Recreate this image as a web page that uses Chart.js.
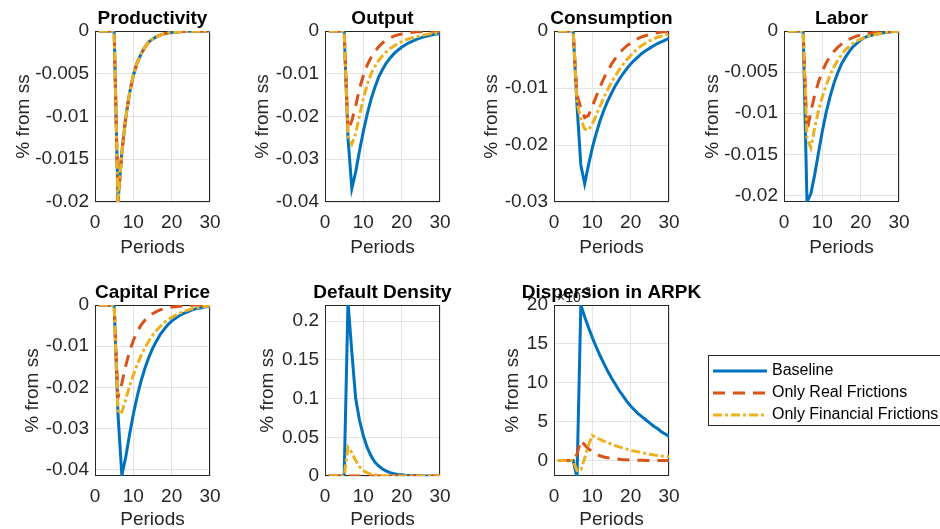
<!DOCTYPE html>
<html>
<head>
<meta charset="utf-8">
<script src="https://cdn.jsdelivr.net/npm/chart.js@4.4.1/dist/chart.umd.min.js"></script>
<style>
  body { margin: 0; background: #fff; width: 940px; height: 529px; overflow: hidden; position: relative; }
  canvas { position: absolute; }
</style>
</head>
<body>
<script>
// ---------------- data ----------------
const periods = [1, 2, 3, 4, 5, 6, 7, 8, 9, 10, 11, 12, 13, 14, 15, 16, 17, 18, 19, 20, 21, 22, 23, 24, 25, 26, 27, 28, 29, 30];
const xTicks = [0, 10, 20, 30];

const seriesNames = ['Baseline', 'Only Real Frictions', 'Only Financial Frictions'];
const seriesColors = ['#0072BD', '#D95319', '#EDB120'];
const seriesDash = [[], [12, 8], [9, 3, 3, 3]];

// Productivity (same path for the three models)
const prodAll = [0, 0, 0, 0, 0, -0.02, -0.0142, -0.0102, -0.0073, -0.0052, -0.0037, -0.0027, -0.0019, -0.0013, -0.00095, -0.00068, -0.00048, -0.00034, -0.00024, -0.00017, -0.00012, -0.00009, -0.00006, -0.00004, -0.00003, -0.00002, -0.00002, -0.00001, -0.00001, 0];

// Output
const outBase = [0, 0, 0, 0, 0, -0.025, -0.0368, -0.033, -0.028, -0.0235, -0.0195, -0.016, -0.0132, -0.0108, -0.009, -0.0075, -0.0063, -0.0053, -0.0045, -0.0038, -0.0032, -0.0027, -0.0023, -0.0019, -0.0016, -0.0013, -0.0011, -0.0009, -0.0007, -0.0006];
const outReal = [0, 0, 0, 0, 0, -0.0232, -0.021, -0.0175, -0.0135, -0.0104, -0.008, -0.0062, -0.0048, -0.0037, -0.0028, -0.0021, -0.0016, -0.0012, -0.0009, -0.0007, -0.0005, -0.0004, -0.0003, -0.0002, -0.00015, -0.0001, -0.00007, -0.00005, -0.00003, -0.00002];
const outFin = [0, 0, 0, 0, 0, -0.0245, -0.0265, -0.024, -0.0198, -0.0158, -0.0126, -0.01, -0.0083, -0.0069, -0.0058, -0.0049, -0.0041, -0.0035, -0.0029, -0.0025, -0.0021, -0.0018, -0.0015, -0.0013, -0.0011, -0.0009, -0.0007, -0.0006, -0.0005, -0.0004];

// Consumption
const consBase = [0, 0, 0, 0, 0, -0.013, -0.0235, -0.0268, -0.0235, -0.0205, -0.018, -0.0158, -0.0139, -0.0123, -0.0109, -0.0096, -0.0085, -0.0075, -0.0066, -0.0058, -0.0051, -0.0045, -0.0039, -0.0034, -0.003, -0.0026, -0.0022, -0.0019, -0.0016, -0.0013];
const consReal = [0, 0, 0, 0, 0, -0.0112, -0.0135, -0.0152, -0.0148, -0.0132, -0.0115, -0.0098, -0.0083, -0.007, -0.0058, -0.0048, -0.0039, -0.0032, -0.0026, -0.0021, -0.0017, -0.0013, -0.001, -0.0008, -0.0006, -0.0004, -0.0003, -0.0002, -0.0001, -0.0001];
const consFin = [0, 0, 0, 0, 0, -0.0125, -0.0155, -0.0172, -0.0174, -0.0163, -0.0148, -0.0132, -0.0117, -0.0103, -0.009, -0.0079, -0.0068, -0.0059, -0.005, -0.0043, -0.0036, -0.003, -0.0025, -0.0021, -0.0017, -0.0014, -0.0011, -0.0009, -0.0007, -0.0005];

// Labor
const laborBase = [0, 0, 0, 0, 0, -0.0208, -0.0198, -0.0175, -0.0148, -0.0122, -0.0099, -0.008, -0.0064, -0.0051, -0.004, -0.0032, -0.0025, -0.0019, -0.0015, -0.0011, -0.0008, -0.0006, -0.0005, -0.0004, -0.0003, -0.0002, -0.00015, -0.0001, -0.00005, 0];
const laborReal = [0, 0, 0, 0, 0, -0.0122, -0.0098, -0.0078, -0.0062, -0.0049, -0.0039, -0.0031, -0.0025, -0.002, -0.0016, -0.0012, -0.001, -0.0008, -0.0006, -0.0005, -0.0004, -0.0003, -0.0002, -0.00015, -0.0001, -0.00008, -0.00005, -0.00003, -0.00002, 0];
const laborFin = [0, 0, 0, 0, 0, -0.013, -0.0142, -0.0118, -0.0097, -0.008, -0.0066, -0.0054, -0.0044, -0.0036, -0.0029, -0.0023, -0.0019, -0.0015, -0.0012, -0.001, -0.0008, -0.0006, -0.0005, -0.0004, -0.0003, -0.0002, -0.00015, -0.0001, -0.00005, 0];

// Capital Price
const capBase = [0, 0, 0, 0, 0, -0.0265, -0.0413, -0.037, -0.0315, -0.0265, -0.0222, -0.0185, -0.0154, -0.0128, -0.0106, -0.0088, -0.0072, -0.0059, -0.0048, -0.0039, -0.0032, -0.0026, -0.0021, -0.0017, -0.0013, -0.001, -0.0008, -0.0006, -0.0004, -0.0003];
const capReal = [0, 0, 0, 0, 0, -0.0225, -0.019, -0.0148, -0.0113, -0.0086, -0.0065, -0.0049, -0.0037, -0.0028, -0.0021, -0.0016, -0.0012, -0.0009, -0.0007, -0.0005, -0.0004, -0.0003, -0.0002, -0.00015, -0.0001, 0, 0, 0, 0, 0];
const capFin = [0, 0, 0, 0, 0, -0.0263, -0.026, -0.023, -0.0198, -0.017, -0.0145, -0.0123, -0.0104, -0.0088, -0.0074, -0.0062, -0.0052, -0.0043, -0.0036, -0.003, -0.0025, -0.002, -0.0016, -0.0013, -0.001, -0.0008, -0.0006, -0.0004, -0.0003, -0.0002];

// Default Density
const defBase = [0, 0, 0, 0, 0, 0.225, 0.16, 0.1, 0.072, 0.052, 0.037, 0.026, 0.018, 0.013, 0.009, 0.0063, 0.0044, 0.003, 0.0021, 0.0015, 0.001, 0.0007, 0.0005, 0.0003, 0.0002, 0.0001, 0.0001, 0, 0, 0];
const defReal = [0, 0, 0, 0, 0, 0, 0, 0, 0, 0, 0, 0, 0, 0, 0, 0, 0, 0, 0, 0, 0, 0, 0, 0, 0, 0, 0, 0, 0, 0];
const defFin = [0, 0, 0, 0, 0, 0.037, 0.03, 0.02, 0.012, 0.007, 0.004, 0.0025, 0.0015, 0.001, 0.0005, 0.0003, 0.0002, 0.0001, 0, 0, 0, 0, 0, 0, 0, 0, 0, 0, 0, 0];

// Dispersion in ARPK (in units of 10^-3)
const dispBase = [0, 0, 0, 0, 0, -2.2, 20, 18.5, 17.1, 15.8, 14.6, 13.5, 12.5, 11.5, 10.6, 9.8, 9.0, 8.3, 7.6, 7.0, 6.5, 6.0, 5.6, 5.2, 4.8, 4.4, 4.1, 3.7, 3.4, 3.1];
const dispReal = [0, 0, 0, 0, 0, 0.8, 2.6, 2.0, 1.5, 1.1, 0.8, 0.6, 0.45, 0.35, 0.25, 0.2, 0.15, 0.1, 0.08, 0.06, 0.04, 0.03, 0.02, 0.01, 0, 0, 0, 0, 0, 0];
const dispFin = [0, 0, 0, 0, 0, -1.3, -1.2, 0.3, 2.0, 3.2, 2.95, 2.7, 2.5, 2.3, 2.1, 1.9, 1.75, 1.6, 1.45, 1.3, 1.2, 1.1, 1.0, 0.9, 0.8, 0.72, 0.65, 0.58, 0.52, 0.47];

// y tick values per panel
const prodTicks = [0, -0.005, -0.01, -0.015, -0.02];
const outTicks = [0, -0.01, -0.02, -0.03, -0.04];
const consTicks = [0, -0.01, -0.02, -0.03];
const laborTicks = [0, -0.005, -0.01, -0.015, -0.02];
const capTicks = [0, -0.01, -0.02, -0.03, -0.04];
const defTicks = [0, 0.05, 0.1, 0.15, 0.2];
const dispTicks = [0, 5, 10, 15, 20];

// ---------------- layout ----------------
const FONT = "'Liberation Sans', Arial, Helvetica, sans-serif";
Chart.defaults.font.family = FONT;
const TEXT = '#262626';
const YW = 90, TOPPAD = 31, RP = 35, XH = 60;
const PW = 115, PH = 171;

const panels = [
  { title: 'Productivity', data: [prodAll, prodAll, prodAll], yMin: -0.02, yMax: 0, yTicks: prodTicks, left: 95, top: 31, labelPad: 7 },
  { title: 'Output', data: [outBase, outReal, outFin], yMin: -0.04, yMax: 0, yTicks: outTicks, left: 325, top: 31, labelPad: 16 },
  { title: 'Consumption', data: [consBase, consReal, consFin], yMin: -0.03, yMax: 0, yTicks: consTicks, left: 554, top: 31, labelPad: 16 },
  { title: 'Labor', data: [laborBase, laborReal, laborFin], yMin: -0.0208, yMax: 0, yTicks: laborTicks, left: 784, top: 31, labelPad: 7 },
  { title: 'Capital Price', data: [capBase, capReal, capFin], yMin: -0.0415, yMax: 0, yTicks: capTicks, left: 95, top: 305, labelPad: 16 },
  { title: 'Default Density', data: [defBase, defReal, defFin], yMin: 0, yMax: 0.221, yTicks: defTicks, left: 325, top: 305, labelPad: 21 },
  { title: 'Dispersion in ARPK', data: [dispBase, dispReal, dispFin], yMin: -2, yMax: 20, yTicks: dispTicks, left: 554, top: 305, labelPad: 37, exponent: '-3' }
];

// axes box, exponent label and bold title (MATLAB look)
const panelDecor = {
  id: 'panelDecor',
  beforeDatasetsDraw(chart) {
    const a = chart.chartArea, ctx = chart.ctx;
    ctx.save();
    ctx.strokeStyle = TEXT;
    ctx.lineWidth = 1;
    ctx.strokeRect(a.left + 0.5, a.top + 0.5, a.right - a.left - 1, a.bottom - a.top - 1);
    ctx.restore();
  },
  afterDraw(chart, args, opts) {
    const a = chart.chartArea, ctx = chart.ctx;
    ctx.save();
    if (opts.exponent) {
      ctx.fillStyle = TEXT;
      ctx.textBaseline = 'alphabetic';
      ctx.textAlign = 'left';
      ctx.font = '14px ' + FONT;
      ctx.fillText('\u00d710', a.left + 3, a.top - 3);
      const w = ctx.measureText('\u00d710').width;
      ctx.font = '11px ' + FONT;
      ctx.fillText(opts.exponent, a.left + 3 + w, a.top - 10);
    }
    ctx.fillStyle = '#000';
    ctx.font = 'bold 19px ' + FONT;
    ctx.textAlign = 'center';
    ctx.textBaseline = 'alphabetic';
    ctx.fillText(opts.text, (a.left + a.right) / 2, a.top - 7);
    ctx.restore();
  }
};

panels.forEach((p, i) => {
  const cv = document.createElement('canvas');
  cv.width = YW + PW + RP;
  cv.height = TOPPAD + PH + XH;
  cv.style.left = (p.left - YW) + 'px';
  cv.style.top = (p.top - TOPPAD) + 'px';
  document.body.appendChild(cv);

  const datasets = p.data.map((vals, k) => ({
    label: seriesNames[k],
    data: periods.map((t, j) => ({ x: t, y: vals[j] })),
    borderColor: seriesColors[k],
    borderDash: seriesDash[k],
    borderWidth: 3,
    pointRadius: 0,
    fill: false,
    order: 3 - k
  }));

  new Chart(cv.getContext('2d'), {
    type: 'line',
    data: { datasets: datasets },
    plugins: [panelDecor],
    options: {
      responsive: false,
      animation: false,
      events: [],
      layout: { padding: { top: TOPPAD, right: RP, left: 0, bottom: 0 } },
      plugins: {
        legend: { display: false },
        tooltip: { enabled: false },
        panelDecor: { text: p.title, exponent: p.exponent }
      },
      scales: {
        x: {
          type: 'linear',
          min: 0,
          max: 30,
          afterBuildTicks: s => { s.ticks = xTicks.map(v => ({ value: v })); },
          afterFit: s => { s.height = XH; },
          grid: { color: '#e3e3e3', drawTicks: false },
          border: { display: false },
          ticks: { padding: 9, color: TEXT, font: { size: 19 }, maxRotation: 0, autoSkip: false, callback: v => String(v) },
          title: { display: true, text: 'Periods', color: TEXT, font: { size: 19 }, padding: { top: 0, bottom: p.top > 100 ? 5 : 3 } }
        },
        y: {
          min: p.yMin,
          max: p.yMax,
          afterBuildTicks: s => { s.ticks = p.yTicks.map(v => ({ value: v })); },
          afterFit: s => { s.width = YW; },
          grid: { color: '#e3e3e3', drawTicks: false },
          border: { display: false },
          ticks: { padding: 6, color: TEXT, font: { size: 19 }, autoSkip: false, callback: v => String(v) },
          title: { display: true, text: '% from ss', color: TEXT, font: { size: 19 }, padding: { top: p.labelPad, bottom: 0 } }
        }
      }
    }
  });
});

// ---------------- legend ----------------
(function drawLegend() {
  const cv = document.createElement('canvas');
  cv.width = 232;
  cv.height = 72;
  cv.style.left = '708px';
  cv.style.top = '355px';
  document.body.appendChild(cv);
  const ctx = cv.getContext('2d');
  ctx.fillStyle = '#fff';
  ctx.fillRect(0, 0, cv.width, cv.height);
  ctx.strokeStyle = TEXT;
  ctx.lineWidth = 1;
  ctx.strokeRect(0.5, 0.5, 300, 70);
  ctx.font = '16px ' + FONT;
  ctx.textBaseline = 'middle';
  seriesNames.forEach((name, k) => {
    const y = 16 + k * 22;
    ctx.save();
    ctx.strokeStyle = seriesColors[k];
    ctx.lineWidth = 3;
    ctx.setLineDash(seriesDash[k]);
    ctx.beginPath();
    ctx.moveTo(5, y);
    ctx.lineTo(59, y);
    ctx.stroke();
    ctx.restore();
    ctx.fillStyle = '#000';
    ctx.fillText(name, 64, y);
  });
})();
</script>
</body>
</html>
